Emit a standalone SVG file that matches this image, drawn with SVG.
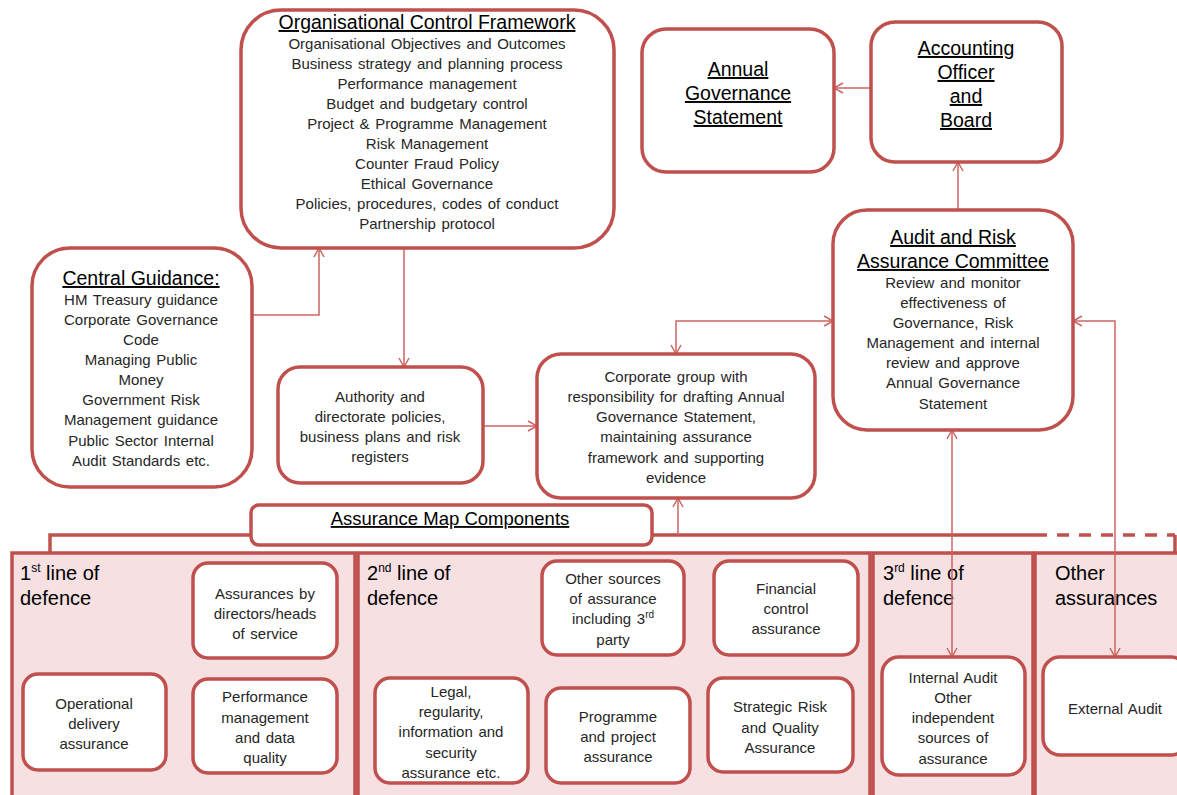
<svg xmlns="http://www.w3.org/2000/svg" width="1177" height="795" viewBox="0 0 1177 795">
<defs>
<marker id="arr" markerUnits="userSpaceOnUse" markerWidth="12" markerHeight="12" refX="10" refY="6" orient="auto-start-reverse">
<path d="M1,1 L10,6 L1,11" fill="none" stroke="#CB6562" stroke-width="1.5"/>
</marker>
<style>
.box{fill:#fff;stroke:#C0504D;stroke-width:3.5}
.sec{fill:#F6E0E2;stroke:#C0504D;stroke-width:3.5}
.con{fill:none;stroke:#CB6562;stroke-width:1.5}
.brk{fill:none;stroke:#C0504D;stroke-width:3.5}
text{font-family:"Liberation Sans",Arial,sans-serif;text-anchor:middle}
.t{font-size:15px;fill:#262626;word-spacing:1.5px}
.h{font-size:19.5px;fill:#000;text-decoration:underline}
.s{font-size:20px;fill:#000;text-anchor:start}
.sup{font-size:12px}
</style>
</defs>

<g id="bottom-panel">
<rect class="sec" x="12" y="553" width="343" height="250"/>
<rect class="sec" x="358" y="553" width="512" height="250"/>
<rect class="sec" x="873" y="553" width="160" height="250"/>
<rect class="sec" x="1035" y="553" width="150" height="250"/>
<text class="s" x="20" y="580">1<tspan class="sup" dy="-8">st</tspan><tspan dy="8"> line of</tspan></text>
<text class="s" x="20" y="605">defence</text>
<text class="s" x="367" y="580">2<tspan class="sup" dy="-8">nd</tspan><tspan dy="8"> line of</tspan></text>
<text class="s" x="367" y="605">defence</text>
<text class="s" x="883" y="580">3<tspan class="sup" dy="-8">rd</tspan><tspan dy="8"> line of</tspan></text>
<text class="s" x="883" y="605">defence</text>
<text class="s" x="1055" y="580">Other</text>
<text class="s" x="1055" y="605">assurances</text>
</g>

<g id="bracket">
<path class="brk" d="M251,535 L50,535 L50,553"/>
<path class="brk" d="M652,535 L1035,535"/>
<path class="brk" d="M1035,535 L1175,535" stroke-dasharray="12,10"/>
<path class="brk" d="M1175,535 L1175,553"/>
</g>

<g id="connectors">
<path class="con" d="M871,88 L834,88" marker-end="url(#arr)"/>
<path class="con" d="M958,210 L958,162" marker-end="url(#arr)"/>
<path class="con" d="M252,315 L319,315 L319,248" marker-end="url(#arr)"/>
<path class="con" d="M404,248 L404,367" marker-end="url(#arr)"/>
<path class="con" d="M483,426 L537,426" marker-end="url(#arr)"/>
<path class="con" d="M676,354 L676,321 L833,321" marker-start="url(#arr)" marker-end="url(#arr)"/>
<path class="con" d="M678,535 L678,498" marker-end="url(#arr)"/>
<path class="con" d="M952,430 L952,657" marker-start="url(#arr)" marker-end="url(#arr)"/>
<path class="con" d="M1073,321 L1115,321 L1115,657" marker-start="url(#arr)" marker-end="url(#arr)"/>
</g>

<g id="ocf">
<rect class="box" x="241" y="10" width="373" height="238" rx="40"/>
<text class="h" x="427" y="29">Organisational Control Framework</text>
<text class="t" x="427" y="49">Organisational Objectives and Outcomes</text>
<text class="t" x="427" y="69">Business strategy and planning process</text>
<text class="t" x="427" y="89">Performance management</text>
<text class="t" x="427" y="109">Budget and budgetary control</text>
<text class="t" x="427" y="129">Project &amp; Programme Management</text>
<text class="t" x="427" y="149">Risk Management</text>
<text class="t" x="427" y="169">Counter Fraud Policy</text>
<text class="t" x="427" y="189">Ethical Governance</text>
<text class="t" x="427" y="209">Policies, procedures, codes of conduct</text>
<text class="t" x="427" y="229">Partnership protocol</text>
</g>

<g id="ags">
<rect class="box" x="642" y="29" width="192" height="143" rx="24"/>
<text class="h" x="738" y="76">Annual</text>
<text class="h" x="738" y="100">Governance</text>
<text class="h" x="738" y="124">Statement</text>
</g>

<g id="aob">
<rect class="box" x="871" y="22" width="191" height="140" rx="24"/>
<text class="h" x="966" y="55">Accounting</text>
<text class="h" x="966" y="79">Officer</text>
<text class="h" x="966" y="103">and</text>
<text class="h" x="966" y="127">Board</text>
</g>

<g id="arac">
<rect class="box" x="833" y="210" width="240" height="220" rx="34"/>
<text class="h" x="953" y="244">Audit and Risk</text>
<text class="h" x="953" y="268">Assurance Committee</text>
<text class="t" x="953" y="288">Review and monitor</text>
<text class="t" x="953" y="308">effectiveness of</text>
<text class="t" x="953" y="328">Governance, Risk</text>
<text class="t" x="953" y="348">Management and internal</text>
<text class="t" x="953" y="368">review and approve</text>
<text class="t" x="953" y="388">Annual Governance</text>
<text class="t" x="953" y="409">Statement</text>
</g>

<g id="central">
<rect class="box" x="32" y="248" width="220" height="239" rx="38"/>
<text class="h" x="141" y="285">Central Guidance:</text>
<text class="t" x="141" y="305">HM Treasury guidance</text>
<text class="t" x="141" y="325">Corporate Governance</text>
<text class="t" x="141" y="345">Code</text>
<text class="t" x="141" y="365">Managing Public</text>
<text class="t" x="141" y="385">Money</text>
<text class="t" x="141" y="405">Government Risk</text>
<text class="t" x="141" y="425">Management guidance</text>
<text class="t" x="141" y="446">Public Sector Internal</text>
<text class="t" x="141" y="466">Audit Standards etc.</text>
</g>

<g id="authority">
<rect class="box" x="278" y="367" width="205" height="116" rx="22"/>
<text class="t" x="380" y="402">Authority and</text>
<text class="t" x="380" y="422">directorate policies,</text>
<text class="t" x="380" y="442">business plans and risk</text>
<text class="t" x="380" y="462">registers</text>
</g>

<g id="corporate">
<rect class="box" x="537" y="354" width="278" height="144" rx="24"/>
<text class="t" x="676" y="382">Corporate group with</text>
<text class="t" x="676" y="402">responsibility for drafting Annual</text>
<text class="t" x="676" y="422">Governance Statement,</text>
<text class="t" x="676" y="442">maintaining assurance</text>
<text class="t" x="676" y="463">framework and supporting</text>
<text class="t" x="676" y="483">evidence</text>
</g>

<g id="assurance-map">
<rect class="box" x="251" y="505" width="401" height="40" rx="8"/>
<text class="h" x="450" y="525" style="font-size:18.5px">Assurance Map Components</text>
</g>

<g id="n-directors">
<rect class="box" x="193" y="563" width="144" height="95" rx="15"/>
<text class="t" x="265" y="599">Assurances by</text>
<text class="t" x="265" y="619">directors/heads</text>
<text class="t" x="265" y="639">of service</text>
</g>
<g id="n-operational">
<rect class="box" x="23" y="674" width="143" height="96" rx="15"/>
<text class="t" x="94" y="709">Operational</text>
<text class="t" x="94" y="729">delivery</text>
<text class="t" x="94" y="749">assurance</text>
</g>
<g id="n-performance">
<rect class="box" x="193" y="679" width="144" height="94" rx="15"/>
<text class="t" x="265" y="702">Performance</text>
<text class="t" x="265" y="723">management</text>
<text class="t" x="265" y="743">and data</text>
<text class="t" x="265" y="763">quality</text>
</g>
<g id="n-other-sources">
<rect class="box" x="542" y="561" width="142" height="94" rx="15"/>
<text class="t" x="613" y="584">Other sources</text>
<text class="t" x="613" y="604">of assurance</text>
<text class="t" x="613" y="624">including 3<tspan style="font-size:10px" dy="-6">rd</tspan></text>
<text class="t" x="613" y="645">party</text>
</g>
<g id="n-financial">
<rect class="box" x="714" y="561" width="144" height="94" rx="15"/>
<text class="t" x="786" y="594">Financial</text>
<text class="t" x="786" y="614">control</text>
<text class="t" x="786" y="634">assurance</text>
</g>
<g id="n-legal">
<rect class="box" x="375" y="678" width="153" height="105" rx="15"/>
<text class="t" x="451" y="697">Legal,</text>
<text class="t" x="451" y="717">regularity,</text>
<text class="t" x="451" y="737">information and</text>
<text class="t" x="451" y="758">security</text>
<text class="t" x="451" y="778">assurance etc.</text>
</g>
<g id="n-programme">
<rect class="box" x="546" y="688" width="144" height="95" rx="15"/>
<text class="t" x="618" y="722">Programme</text>
<text class="t" x="618" y="742">and project</text>
<text class="t" x="618" y="762">assurance</text>
</g>
<g id="n-strategic">
<rect class="box" x="708" y="678" width="145" height="94" rx="15"/>
<text class="t" x="780" y="712">Strategic Risk</text>
<text class="t" x="780" y="733">and Quality</text>
<text class="t" x="780" y="753">Assurance</text>
</g>
<g id="n-internal-audit">
<rect class="box" x="882" y="657" width="143" height="118" rx="17"/>
<text class="t" x="953" y="683">Internal Audit</text>
<text class="t" x="953" y="703">Other</text>
<text class="t" x="953" y="723">independent</text>
<text class="t" x="953" y="743">sources of</text>
<text class="t" x="953" y="764">assurance</text>
</g>
<g id="n-external-audit">
<rect class="box" x="1043" y="657" width="145" height="98" rx="17"/>
<text class="t" x="1115" y="714">External Audit</text>
</g>
</svg>
